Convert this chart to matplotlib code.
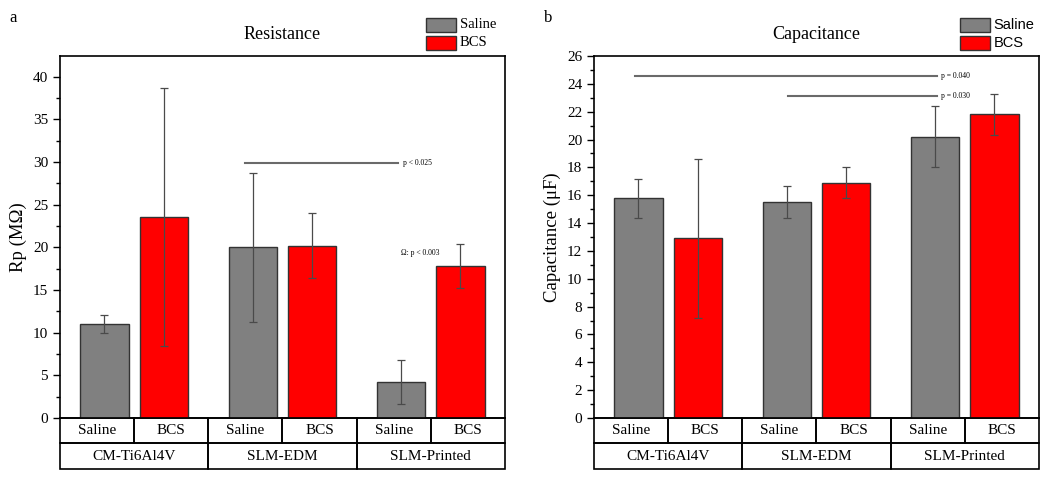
import numpy as np
import matplotlib
matplotlib.use('Agg')
import matplotlib.pyplot as plt
from matplotlib.patches import Rectangle
from matplotlib.transforms import blended_transform_factory
from matplotlib.ticker import MultipleLocator

plt.rcParams['font.family'] = ['Liberation Serif', 'DejaVu Serif']

groups = ['CM-Ti6Al4V', 'SLM-EDM', 'SLM-Printed']
media = ['Saline', 'BCS']

rp_saline = [11.0, 20.0, 4.2]
rp_saline_err = [1.1, 8.7, 2.6]
rp_bcs = [23.5, 20.2, 17.8]
rp_bcs_err = [15.1, 3.8, 2.55]

cap_saline = [15.8, 15.5, 20.2]
cap_saline_err = [1.4, 1.15, 2.2]
cap_bcs = [12.9, 16.9, 21.8]
cap_bcs_err = [5.7, 1.1, 1.5]

colors = ['#808080', '#ff0000']


def draw_panel(ax, saline, saline_err, bcs, bcs_err, ylim, major, ylabel, title,
               letter, legend_font):
    x = np.arange(len(groups)) * 2
    w = 0.65
    for off, vals, errs, col in [(0.6, saline, saline_err, colors[0]),
                                 (1.4, bcs, bcs_err, colors[1])]:
        ax.bar(x + off, vals, width=w, color=col, edgecolor='#333333', lw=1, zorder=2)
        ax.errorbar(x + off, vals, yerr=errs, fmt='none', ecolor='#4a4a4a',
                    elinewidth=0.9, capsize=3, capthick=0.9, zorder=3)
    ax.set_xlim(0, 6)
    ax.set_ylim(*ylim)
    ax.set_xticks([])
    ax.yaxis.set_major_locator(MultipleLocator(major))
    ax.yaxis.set_minor_locator(MultipleLocator(major / 2))
    ax.tick_params(axis='y', which='major', direction='out', length=5, width=1,
                   labelsize=11)
    ax.tick_params(axis='y', which='minor', direction='out', length=3, width=1)
    for s in ax.spines.values():
        s.set_linewidth(1.2)
    ax.set_ylabel(ylabel, fontsize=13.5, labelpad=4)
    ax.set_title(title, fontsize=13, pad=12)

    # category table under the axis
    tr = blended_transform_factory(ax.transData, ax.transAxes)
    r1, r2 = 0.069, 0.141
    for i in range(6):
        ax.add_patch(Rectangle((i, -r1), 1, r1, transform=tr, fill=False,
                               lw=1.2, ec='black', clip_on=False))
        ax.text(i + 0.5, -r1 / 2, media[i % 2], transform=tr, ha='center',
                va='center', fontsize=11)
    for g, name in enumerate(groups):
        ax.add_patch(Rectangle((2 * g, -r2), 2, r2 - r1, transform=tr, fill=False,
                               lw=1.2, ec='black', clip_on=False))
        ax.text(2 * g + 1, -(r1 + r2) / 2, name, transform=tr, ha='center',
                va='center', fontsize=11)

    # legend boxes above the top right corner
    lx, ly, step = 0.822, 1.066, 0.049
    for j, (lab, col) in enumerate(zip(media, colors)):
        ax.add_patch(Rectangle((lx, ly - j * step), 0.067, 0.039, transform=ax.transAxes,
                               fc=col, ec='#333333', lw=1, clip_on=False))
        ax.text(lx + 0.076, ly - j * step + 0.02, lab, transform=ax.transAxes,
                va='center', ha='left', fontsize=10.5, family=legend_font)
    ax.text(-0.113, 1.105, letter, transform=ax.transAxes, fontsize=12,
            va='center', ha='left')


fig = plt.figure(figsize=(10.5, 4.78), dpi=100)
ax1 = fig.add_axes([0.0571, 0.1255, 0.4238, 0.7573])
ax2 = fig.add_axes([0.5657, 0.1255, 0.4238, 0.7573])

draw_panel(ax1, rp_saline, rp_saline_err, rp_bcs, rp_bcs_err, (0, 42.4), 5,
           'Rp (MΩ)', 'Resistance', 'a', ['Liberation Serif'])
draw_panel(ax2, cap_saline, cap_saline_err, cap_bcs, cap_bcs_err, (0, 26), 2,
           'Capacitance (μF)', 'Capacitance', 'b', ['Liberation Sans'])

# significance markers
ax1.plot([2.49, 4.56], [29.9, 29.9], color='#6a6a6a', lw=1.5, zorder=4)
ax1.text(4.62, 29.9, 'p < 0.025', fontsize=5.5, va='center', ha='left')
ax1.text(4.6, 19.3, 'Ω: p < 0.003', fontsize=5.5, va='center', ha='left')

ax2.plot([0.55, 4.62], [24.57, 24.57], color='#6a6a6a', lw=1.5, zorder=4)
ax2.text(4.68, 24.57, 'p = 0.040', fontsize=5.5, va='center', ha='left')
ax2.plot([2.62, 4.62], [23.13, 23.13], color='#6a6a6a', lw=1.5, zorder=4)
ax2.text(4.68, 23.13, 'p = 0.030', fontsize=5.5, va='center', ha='left')

fig.savefig('out.png', dpi=100)
